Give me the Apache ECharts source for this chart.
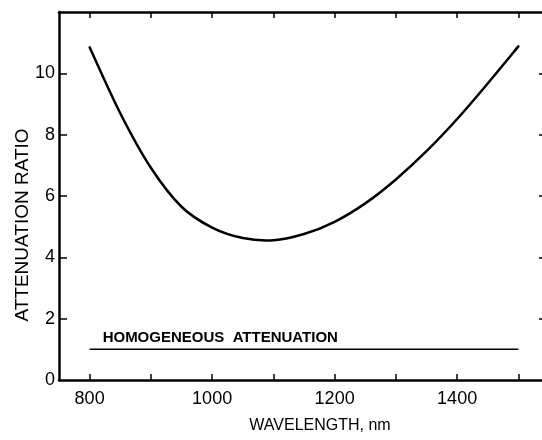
<!DOCTYPE html>
<html>
<head>
<meta charset="utf-8">
<script src="https://cdn.jsdelivr.net/npm/echarts@6/dist/echarts.min.js"></script>
<style>html,body{margin:0;padding:0;background:#fff;}#c{width:542px;height:440px;}</style>
</head>
<body>
<div id="c"></div>
<script>
const wavelength = [800, 850, 900, 950, 1000, 1050, 1100, 1150, 1200, 1250, 1300, 1350, 1400, 1450, 1500];
const attenuationRatio = [10.85, 8.70, 6.92, 5.65, 4.97, 4.63, 4.56, 4.76, 5.16, 5.76, 6.54, 7.46, 8.51, 9.67, 10.88];
const homogeneousWavelength = [800, 1500];
const homogeneousRatio = [1, 1];
const homogeneousLabel = 'HOMOGENEOUS  ATTENUATION';
const xTickValues = [800, 900, 1000, 1100, 1200, 1300, 1400, 1500];
const xLabelValues = [800, 1000, 1200, 1400];
const yTickValues = [2, 4, 6, 8, 10];
const yLabelValues = [0, 2, 4, 6, 8, 10];

const FONT = 'Liberation Sans';
const chart = echarts.init(document.getElementById('c'), null, {renderer: 'canvas'});

const curveData = wavelength.map((w, i) => [w, attenuationRatio[i]]);
const homoData = homogeneousWavelength.map((w, i) => i === 0
  ? {value: [w, homogeneousRatio[i]], label: {show: true, formatter: homogeneousLabel, position: 'top', align: 'left', distance: 4, offset: [13, 0], fontSize: 15, fontWeight: 'bold', color: '#000', fontFamily: FONT}}
  : [w, homogeneousRatio[i]]);

const axisLineStyle = {color: '#000', width: 2.5};
const plain = v => String(v);

// smooth curve (Catmull-Rom through the data points, positioned via the axes)
function renderCurve(params, api) {
  if (params.dataIndex !== 0) return null;
  const p = curveData.map(d => api.coord(d));
  const n = p.length;
  let d = 'M' + p[0][0] + ' ' + p[0][1];
  for (let i = 0; i < n - 1; i++) {
    const p0 = p[Math.max(0, i - 1)], p1 = p[i], p2 = p[i + 1], p3 = p[Math.min(n - 1, i + 2)];
    const c1x = p1[0] + (p2[0] - p0[0]) / 6, c1y = p1[1] + (p2[1] - p0[1]) / 6;
    const c2x = p2[0] - (p3[0] - p1[0]) / 6, c2y = p2[1] - (p3[1] - p1[1]) / 6;
    d += ' C' + c1x + ' ' + c1y + ' ' + c2x + ' ' + c2y + ' ' + p2[0] + ' ' + p2[1];
  }
  return {type: 'path', shape: {pathData: d}, style: {fill: null, stroke: '#000', lineWidth: 2.5, lineCap: 'round'}};
}

chart.setOption({
  animation: false,
  backgroundColor: '#fff',
  grid: {left: 59, top: 12, width: 490, height: 368, outerBoundsMode: 'none', containLabel: false},
  xAxis: [{
    type: 'value', min: 750, max: 1550, position: 'bottom',
    name: 'WAVELENGTH, nm', nameLocation: 'middle', nameGap: 38,
    nameTextStyle: {fontSize: 16, color: '#000', fontFamily: FONT, padding: [0, 0, 0, 32]},
    axisLine: {show: true, onZero: false, lineStyle: axisLineStyle},
    axisTick: {show: true, inside: true, length: 6, customValues: xTickValues, lineStyle: {color: '#000', width: 1.5}},
    axisLabel: {customValues: xLabelValues, formatter: plain, fontSize: 18, margin: 10, color: '#000', fontFamily: FONT},
    splitLine: {show: false}
  }, {
    type: 'value', min: 750, max: 1550, position: 'top',
    axisLine: {show: true, onZero: false, lineStyle: axisLineStyle},
    axisTick: {show: true, inside: true, length: 6, customValues: xTickValues, lineStyle: {color: '#000', width: 1.5}},
    axisLabel: {show: false},
    splitLine: {show: false}
  }],
  yAxis: [{
    type: 'value', min: 0, max: 12, position: 'left',
    name: 'ATTENUATION RATIO', nameLocation: 'middle', nameGap: 27, nameRotate: 90, nameMoveOverlap: false,
    nameTextStyle: {fontSize: 19, color: '#000', fontFamily: FONT, padding: [0, 58, 0, 0]},
    axisLine: {show: true, onZero: false, lineStyle: axisLineStyle},
    axisTick: {show: true, inside: true, length: 8, customValues: yTickValues, lineStyle: {color: '#000', width: 1.5}},
    axisLabel: {customValues: yLabelValues, formatter: plain, fontSize: 18, margin: 4, color: '#000', fontFamily: FONT},
    splitLine: {show: false}
  }, {
    type: 'value', min: 0, max: 12, position: 'right',
    axisLine: {show: false},
    axisTick: {show: true, inside: true, length: 10, customValues: yTickValues, lineStyle: {color: '#000', width: 1.5}},
    axisLabel: {show: false},
    splitLine: {show: false}
  }],
  series: [{
    type: 'custom', xAxisIndex: 0, yAxisIndex: 0,
    data: curveData, encode: {x: 0, y: 1},
    renderItem: renderCurve
  }, {
    type: 'line', xAxisIndex: 0, yAxisIndex: 0,
    data: homoData, showSymbol: true, symbol: 'circle', symbolSize: 0,
    lineStyle: {color: '#000', width: 1.5}
  }]
});
</script>
</body>
</html>
